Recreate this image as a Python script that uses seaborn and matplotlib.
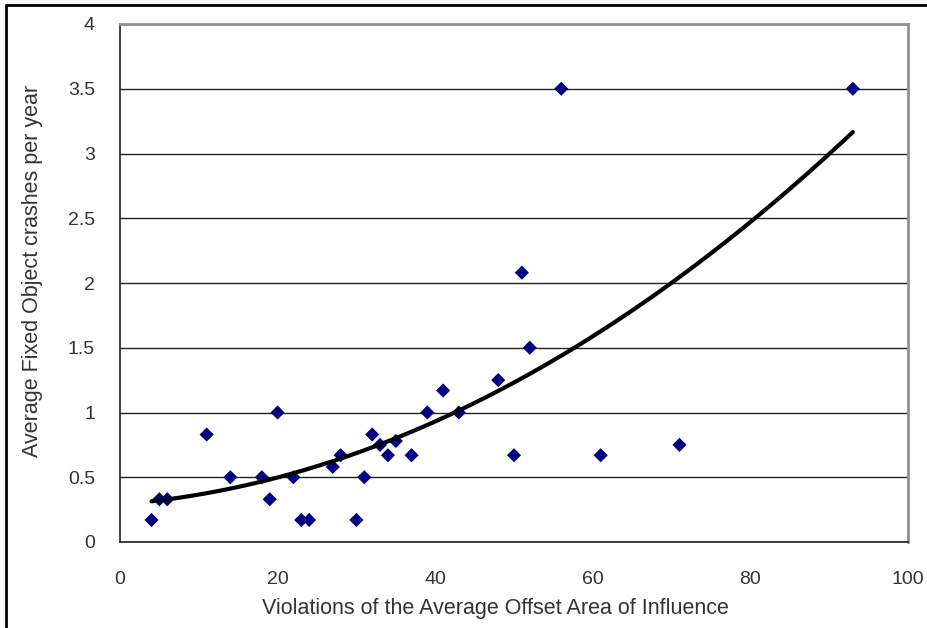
import numpy as np
import pandas as pd
import matplotlib
matplotlib.use('Agg')
import matplotlib.pyplot as plt
import seaborn as sns
from matplotlib.lines import Line2D

# violations vs. average fixed-object crashes per year
violations = [4, 5, 6, 11, 14, 18, 19, 20, 22, 23, 24, 27, 28, 30, 31,
              32, 33, 34, 35, 37, 39, 41, 43, 48, 50, 51, 52, 56, 61, 71, 93]
crashes = [0.17, 0.33, 0.33, 0.83, 0.5, 0.5, 0.33, 1.0, 0.5, 0.17, 0.17, 0.58, 0.67, 0.17, 0.5,
           0.83, 0.75, 0.67, 0.78, 0.67, 1.0, 1.17, 1.0, 1.25, 0.67, 2.08, 1.5, 3.5, 0.67, 0.75, 3.5]

df = pd.DataFrame({'x': violations, 'y': crashes})

sns.set_style('white')
plt.rcParams['font.family'] = ['Liberation Sans', 'DejaVu Sans']

fig = plt.figure(figsize=(9.28, 6.28), dpi=100)
ax = fig.add_axes([120/928, 1 - 542/628, 788/928, 518/628])

# horizontal gridlines like the Excel chart
ax.set_axisbelow(True)
ax.yaxis.grid(True, color='#222222', linewidth=1.0)
ax.xaxis.grid(False)

sns.scatterplot(data=df, x='x', y='y', marker='D', s=52, color='#000080',
                edgecolor='none', ax=ax, zorder=3)

# polynomial (order 2) trendline
c = np.polyfit(df['x'], df['y'], 2)
xs = np.linspace(df['x'].min(), df['x'].max(), 200)
sns.lineplot(x=xs, y=np.polyval(c, xs), color='black', linewidth=3, ax=ax, zorder=4)

ax.set_xlim(0, 100)
ax.set_ylim(0, 4)
ax.set_xticks(range(0, 101, 20))
ax.set_yticks([0, 0.5, 1, 1.5, 2, 2.5, 3, 3.5, 4])
ax.set_yticklabels(['0', '0.5', '1', '1.5', '2', '2.5', '3', '3.5', '4'])

ax.tick_params(axis='both', which='major', direction='out', length=6, width=1,
               color='#222222', labelsize=14, labelcolor='#333333', pad=12)
ax.tick_params(axis='x', pad=15)

for side in ['left', 'bottom']:
    ax.spines[side].set_color('#222222')
    ax.spines[side].set_linewidth(1.2)
for side in ['top', 'right']:
    ax.spines[side].set_color('#909090')
    ax.spines[side].set_linewidth(2)

ax.set_xlabel('Violations of the Average Offset Area of Influence', fontsize=15.5,
              color='#333333')
ax.set_ylabel('Average Fixed Object crashes per year', fontsize=15.5,
              color='#333333')
ax.xaxis.set_label_coords(0.477, -0.108)
ax.yaxis.set_label_coords(-0.098, 0.523)

# outer black frame (top and left edges)
fig.add_artist(Line2D([6/928, 6/928], [0, 1 - 5/628], transform=fig.transFigure,
                      color='black', linewidth=2))
fig.add_artist(Line2D([6/928, 927/928], [1 - 5/628, 1 - 5/628], transform=fig.transFigure,
                      color='black', linewidth=2))

fig.savefig('out.png', dpi=100)
